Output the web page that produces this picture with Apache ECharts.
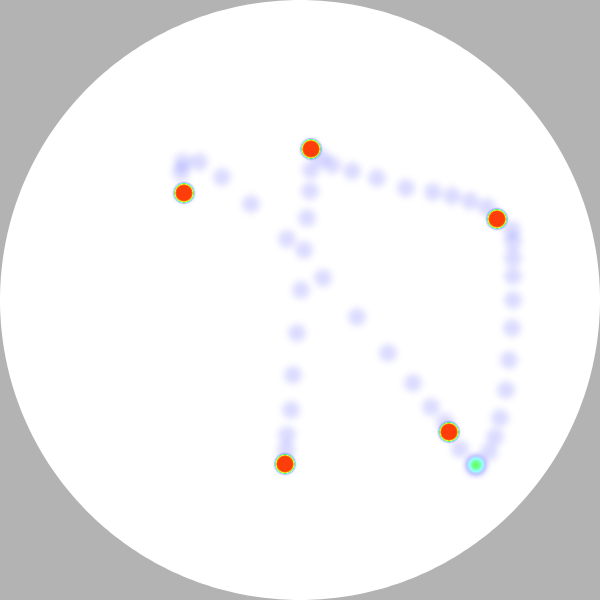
<!DOCTYPE html>
<html>
<head>
<meta charset="utf-8">
<style>html,body{margin:0;padding:0;background:#b3b3b3;}#main{width:600px;height:600px;}</style>
<script src="https://cdn.jsdelivr.net/npm/echarts@6/dist/echarts.min.js"></script>
</head>
<body>
<div id="main"></div>
<script>
// Map units: x right, y up; the disc has radius 300 centred at 0,0
// Hot spots (saturated stops)
var hotLng = [-116, 11, 197, 149, -15];
var hotLat = [107, 151, 81, -132, -164];
var hotVal = [0.96, 0.96, 0.96, 0.96, 0.96];
// Trail points (faint) plus the one medium point
var trailLng = [176,
  -116, 11, 197, 149, -15,
  -119, -117, -101, -78, -49, -13, 23, 57, 88, 113, 131, 145, 160,
  11, 10, 7, 4, 1, -3, -7, -9, -13, -14,
  21, 32, 52, 77, 106, 133, 152, 170, 187,
  212, 213, 213, 213, 213, 212, 209, 206, 200, 195, 189];
var trailLat = [-165,
  107, 151, 81, -132, -164,
  128, 138, 138, 123, 96, 61, 22, -17, -53, -83, -107, -122, -149,
  130, 109, 82, 50, 10, -33, -75, -110, -135, -150,
  142, 135, 129, 122, 112, 108, 104, 99, 93,
  70, 58, 42, 24, 0, -28, -60, -90, -118, -137, -152];
var trailVal = [0.62,
  0.15, 0.15, 0.15, 0.15, 0.15,
  0.14, 0.14, 0.14, 0.14, 0.14, 0.14, 0.14, 0.14, 0.14, 0.14, 0.14, 0.14, 0.14,
  0.14, 0.14, 0.14, 0.14, 0.14, 0.14, 0.14, 0.14, 0.14, 0.14,
  0.14, 0.14, 0.14, 0.14, 0.14, 0.14, 0.14, 0.14, 0.14,
  0.14, 0.14, 0.14, 0.14, 0.14, 0.14, 0.14, 0.14, 0.14, 0.14, 0.14];

var ring = [];
for (var i = 0; i <= 360; i++) {
  var a = i * Math.PI / 180;
  ring.push([300 * Math.cos(a), 300 * Math.sin(a)]);
}
echarts.registerMap('disc', {
  type: 'FeatureCollection',
  features: [{type: 'Feature', properties: {name: 'disc'}, geometry: {type: 'Polygon', coordinates: [ring]}}]
});

function zip(xs, ys, vs) { return xs.map(function (x, i) { return [x, ys[i], vs[i]]; }); }

var chart = echarts.init(document.getElementById('main'));
chart.setOption({
  backgroundColor: '#b3b3b3',
  animation: false,
  geo: {
    map: 'disc',
    roam: false,
    silent: true,
    aspectScale: 1,
    layoutCenter: ['50%', '50%'],
    layoutSize: 600,
    label: {show: false},
    itemStyle: {areaColor: '#ffffff', borderWidth: 0},
    emphasis: {disabled: true}
  },
  visualMap: {
    show: false,
    min: 0,
    max: 1,
    seriesIndex: [0, 1],
    calculable: false,
    inRange: {color: ['blue', 'blue', 'cyan', 'lime', 'yellow', 'red']}
  },
  series: [{
    type: 'heatmap',
    coordinateSystem: 'geo',
    pointSize: 9,
    blurSize: 7,
    data: zip(trailLng, trailLat, trailVal)
  }, {
    type: 'heatmap',
    coordinateSystem: 'geo',
    pointSize: 10,
    blurSize: 2,
    data: zip(hotLng, hotLat, hotVal)
  }]
});
</script>
</body>
</html>
